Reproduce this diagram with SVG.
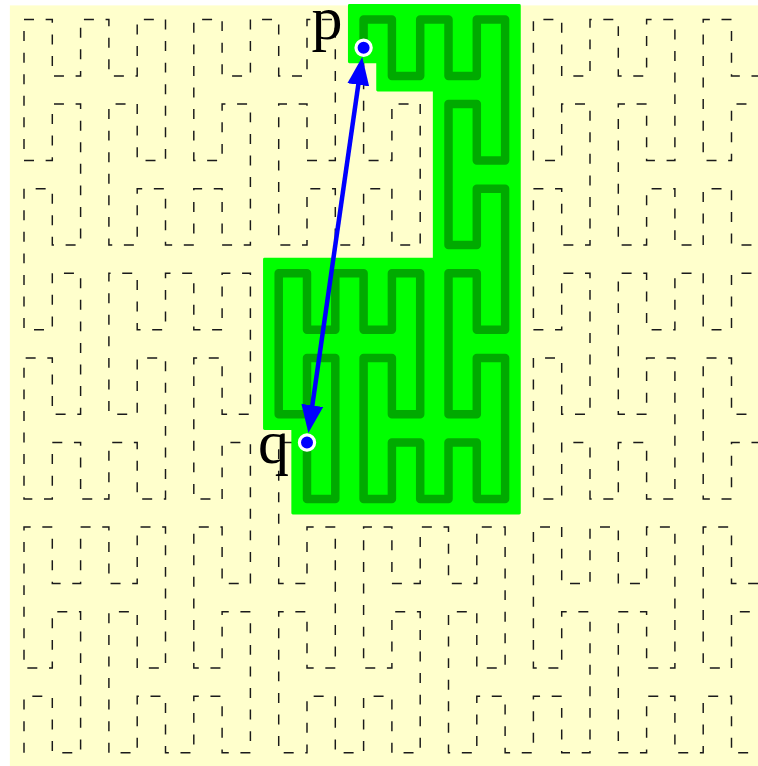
<svg xmlns="http://www.w3.org/2000/svg" width="758" height="766" viewBox="0 0 758 766">
  <style>
    .bg { fill: #ffffcc; }
    .peano { fill: none; stroke: #1a1a1a; stroke-width: 4.4; stroke-dasharray: 30 35; stroke-linecap: butt; stroke-linejoin: miter; }
    .region { fill: #00ff00; stroke: #00ff00; stroke-width: 9; stroke-linejoin: round; }
    .subpath { fill: none; stroke: #00aa00; stroke-width: 25.5; stroke-linecap: round; stroke-linejoin: round; }
    .arrow { fill: none; stroke: #0000ff; stroke-width: 4.5; }
    .pt { fill: #0000ff; stroke: #ffffff; stroke-width: 3.2; }
    .lbl { font-family: "Liberation Serif", "Times New Roman", serif; font-size: 62px; fill: #000000; }
  </style>
  <defs>
    <marker id="head" markerUnits="userSpaceOnUse" viewBox="0 0 28 22" refX="3" refY="11" markerWidth="28" markerHeight="22" orient="auto-start-reverse">
      <path d="M0,0 L28,11 L0,22 z" fill="#0000ff"/>
    </marker>
  </defs>

  <rect class="bg" x="9.85" y="5.4" width="770" height="770"/>

  <g id="grid" transform="translate(24 19.5) scale(0.332941 0.331765)">
    <g id="peano-curve">
      <path class="peano" d="M0 2210
v-170h85v170h85v-425h-85v170h-85v-425h85v170h85v-170 h85 v170h85v-170h85v425h-85v-170h-85v425h85v-170h85v170 h85 v-170h85v170h85v-425h-85v170h-85v-425h85v170h85v-170
v-85
v-170h-85v170h-85v-425h85v170h85v-425h-85v170h-85v-170 h-85 v170h-85v-170h-85v425h85v-170h85v425h-85v-170h-85v170 h-85 v-170h-85v170h-85v-425h85v170h85v-425h-85v170h-85v-170
v-85
v-170h85v170h85v-425h-85v170h-85v-425h85v170h85v-170 h85 v170h85v-170h85v425h-85v-170h-85v425h85v-170h85v170 h85 v-170h85v170h85v-425h-85v170h-85v-425h85v170h85v-170
h85
v170h85v-170h85v425h-85v-170h-85v425h85v-170h85v170 h85 v-170h85v170h85v-425h-85v170h-85v-425h85v170h85v-170 h85 v170h85v-170h85v425h-85v-170h-85v425h85v-170h85v170
v85
v170h-85v-170h-85v425h85v-170h85v425h-85v-170h-85v170 h-85 v-170h-85v170h-85v-425h85v170h85v-425h-85v170h-85v-170 h-85 v170h-85v-170h-85v425h85v-170h85v425h-85v-170h-85v170
v85
v170h85v-170h85v425h-85v-170h-85v425h85v-170h85v170 h85 v-170h85v170h85v-425h-85v170h-85v-425h85v170h85v-170 h85 v170h85v-170h85v425h-85v-170h-85v425h85v-170h85v170
h85
v-170h85v170h85v-425h-85v170h-85v-425h85v170h85v-170 h85 v170h85v-170h85v425h-85v-170h-85v425h85v-170h85v170 h85 v-170h85v170h85v-425h-85v170h-85v-425h85v170h85v-170
v-85
v-170h-85v170h-85v-425h85v170h85v-425h-85v170h-85v-170 h-85 v170h-85v-170h-85v425h85v-170h85v425h-85v-170h-85v170 h-85 v-170h-85v170h-85v-425h85v170h85v-425h-85v170h-85v-170
v-85
v-170h85v170h85v-425h-85v170h-85v-425h85v170h85v-170 h85 v170h85v-170h85v425h-85v-170h-85v425h85v-170h85v170 h85 v-170h85v170h85v-425h-85v170h-85v-425h85v170h85v-170"/>
    </g>
    <g id="highlight">
      <path class="region" d="M977.5 -42.5 H1487.5 V1487.5 H807.5 V1232.5 H722.5 V722.5 H1232.5 V212.5 H1062.5 V127.5 H977.5 Z"/>
      <path class="subpath" d="M1020 85
v-85 h85 v170 h85 v-170 h85
v170h85v-170h85v425h-85v-170h-85v425h85v-170h85v170
v85
v170h-85v-170h-85v425h85v-170h85v425h-85v-170h-85v170
h-85
v-170h-85v170h-85v-425h85v170h85v-425h-85v170h-85v-170
h-85
v170h-85v-170h-85v425h85v-170h85v425h-85v-170"/>
    </g>
  </g>

  <g id="connectors">
    <line class="arrow" x1="358.70" y1="81.85" x2="311.90" y2="408.35" marker-start="url(#head)" marker-end="url(#head)"/>
  </g>

  <g id="node-p">
    <circle class="pt" cx="363.6" cy="47.7" r="7.6"/>
    <text class="lbl" x="311.5" y="39">p</text>
  </g>
  <g id="node-q">
    <circle class="pt" cx="307" cy="442.5" r="7.6"/>
    <text class="lbl" x="258" y="463">q</text>
  </g>
</svg>
